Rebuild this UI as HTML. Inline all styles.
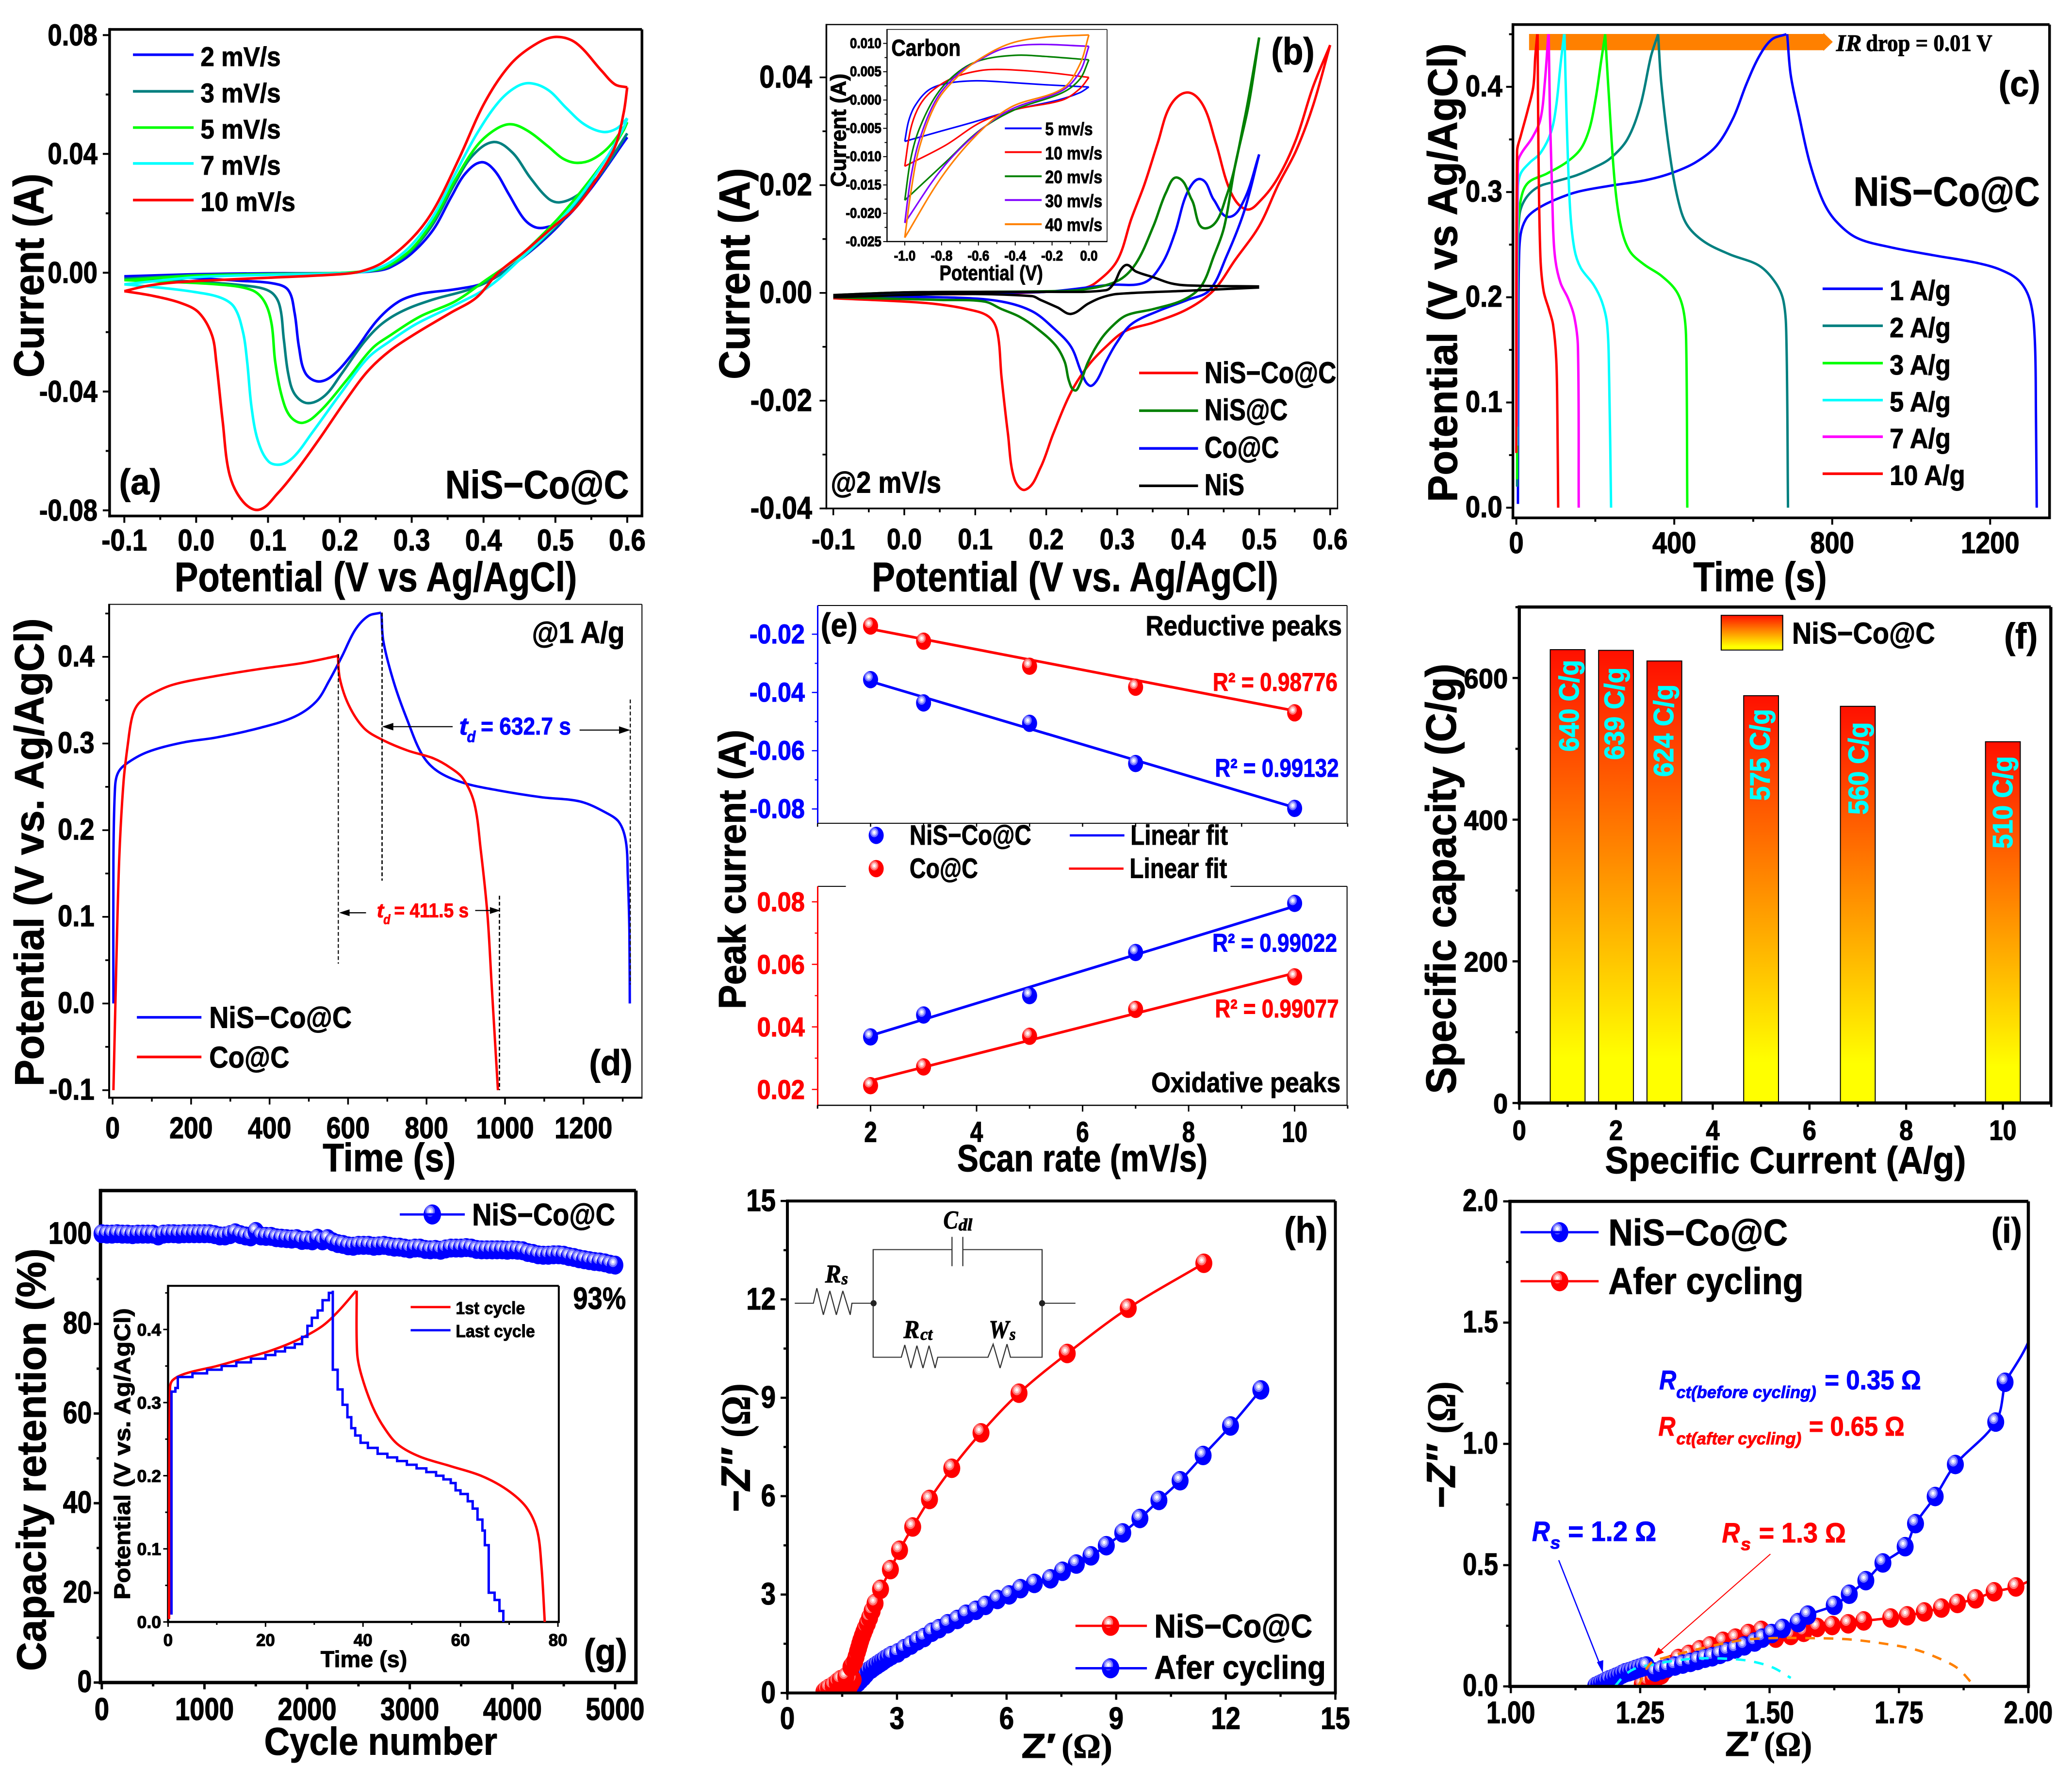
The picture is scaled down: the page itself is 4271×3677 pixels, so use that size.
<!DOCTYPE html>
<html lang="en">
<head>
<meta charset="utf-8">
<title>NiS-Co@C electrochemical characterisation</title>
<style>
html,body{margin:0;padding:0;background:#fff}
svg{display:block}
text{font-family:"Liberation Sans",sans-serif;font-weight:bold;fill:#000}
text.s{font-family:"Liberation Serif",serif}
</style>
</head>
<body>
<svg id="fig" xmlns="http://www.w3.org/2000/svg" width="4271" height="3677" viewBox="0 0 4271 3677">
<defs>
<radialGradient id="ballBlue" cx=".37" cy=".33" r=".28">
<stop offset="0" stop-color="#fff"/><stop offset=".28" stop-color="#fff"/><stop offset=".32" stop-color="#c0c0ff"/><stop offset=".62" stop-color="#c0c0ff"/><stop offset=".66" stop-color="#7070ff"/><stop offset=".96" stop-color="#7070ff"/><stop offset="1" stop-color="#0000ff"/>
</radialGradient>
<radialGradient id="ballRed" cx=".37" cy=".33" r=".28">
<stop offset="0" stop-color="#fff"/><stop offset=".28" stop-color="#fff"/><stop offset=".32" stop-color="#ffc0c0"/><stop offset=".62" stop-color="#ffc0c0"/><stop offset=".66" stop-color="#ff7070"/><stop offset=".96" stop-color="#ff7070"/><stop offset="1" stop-color="#ff0000"/>
</radialGradient>
<linearGradient id="barFill" x1="0" y1="1" x2="0" y2="0">
<stop offset="0" stop-color="#ffff00"/><stop offset=".1" stop-color="#ffff00"/><stop offset="1" stop-color="#ff1000"/>
</linearGradient>
</defs>

<!-- PANEL A -->
<g id="plot-a"></g>
<g transform="translate(0,0) scale(.8929,.778)">
<text transform="translate(100,1000) rotate(-90)" font-size="98" textLength="540" lengthAdjust="spacingAndGlyphs">Current (A)</text>
<text x="403" y="1566" font-size="110" textLength="929" lengthAdjust="spacingAndGlyphs">Potential (V vs Ag/AgCl)</text>
<line x1="307" x2="447" y1="145" y2="145" stroke="#0000ff" stroke-width="7"/>
<line x1="307" x2="447" y1="242" y2="242" stroke="#008080" stroke-width="7"/>
<line x1="307" x2="447" y1="338" y2="338" stroke="#00ff00" stroke-width="7"/>
<line x1="307" x2="447" y1="433" y2="433" stroke="#00ffff" stroke-width="7"/>
<line x1="307" x2="447" y1="530" y2="530" stroke="#ff0000" stroke-width="7"/>
<text x="463" y="175" font-size="72" textLength="185" lengthAdjust="spacingAndGlyphs">2 mV/s</text>
<text x="463" y="271" font-size="72" textLength="185" lengthAdjust="spacingAndGlyphs">3 mV/s</text>
<text x="463" y="367" font-size="72" textLength="185" lengthAdjust="spacingAndGlyphs">5 mV/s</text>
<text x="463" y="463" font-size="72" textLength="185" lengthAdjust="spacingAndGlyphs">7 mV/s</text>
<text x="463" y="559" font-size="72" textLength="219" lengthAdjust="spacingAndGlyphs">10 mV/s</text>
<text x="275" y="1310" font-size="95" textLength="97" lengthAdjust="spacingAndGlyphs">(a)</text>
<text x="1028" y="1320" font-size="105" textLength="424" lengthAdjust="spacingAndGlyphs">NiS−Co@C</text>
</g>

<!-- PANEL B -->
<g id="plot-b"></g>
<g transform="translate(1440,0) scale(.8929,.778)">
<text transform="translate(117,1005) rotate(-90)" font-size="100" textLength="560" lengthAdjust="spacingAndGlyphs">Current (A)</text>
<text x="400" y="1566" font-size="110" textLength="938" lengthAdjust="spacingAndGlyphs">Potential (V vs. Ag/AgCl)</text>
<line x1="1017" x2="1153" y1="988" y2="988" stroke="#ff0000" stroke-width="7"/>
<line x1="1017" x2="1153" y1="1088" y2="1088" stroke="#008000" stroke-width="7"/>
<line x1="1017" x2="1153" y1="1188" y2="1188" stroke="#0000ff" stroke-width="7"/>
<line x1="1017" x2="1153" y1="1287" y2="1287" stroke="#000" stroke-width="7"/>
<text x="1168" y="1015" font-size="80" textLength="304" lengthAdjust="spacingAndGlyphs">NiS−Co@C</text>
<text x="1168" y="1113" font-size="80" textLength="192" lengthAdjust="spacingAndGlyphs">NiS@C</text>
<text x="1168" y="1213" font-size="80" textLength="172" lengthAdjust="spacingAndGlyphs">Co@C</text>
<text x="1168" y="1312" font-size="80" textLength="92" lengthAdjust="spacingAndGlyphs">NiS</text>
<text x="1322" y="170" font-size="100" textLength="100" lengthAdjust="spacingAndGlyphs">(b)</text>
<text x="305" y="1305" font-size="80" textLength="255" lengthAdjust="spacingAndGlyphs">@2 mV/s</text>
<text transform="translate(340,495) rotate(-90)" font-size="50" textLength="300" lengthAdjust="spacingAndGlyphs">Current (A)</text>
<text x="556" y="742" font-size="56" textLength="239" lengthAdjust="spacingAndGlyphs">Potential (V)</text>
<text x="445" y="148" font-size="62" textLength="160" lengthAdjust="spacingAndGlyphs">Carbon</text>
<line x1="707" x2="792" y1="340" y2="340" stroke="#0000ff" stroke-width="5"/>
<line x1="707" x2="792" y1="403" y2="403" stroke="#ff0000" stroke-width="5"/>
<line x1="707" x2="792" y1="467" y2="467" stroke="#008000" stroke-width="5"/>
<line x1="707" x2="792" y1="530" y2="530" stroke="#8000ff" stroke-width="5"/>
<line x1="707" x2="792" y1="594" y2="594" stroke="#ff8000" stroke-width="5"/>
<text x="800" y="358" font-size="48" textLength="110" lengthAdjust="spacingAndGlyphs">5 mv/s</text>
<text x="800" y="422" font-size="48" textLength="132" lengthAdjust="spacingAndGlyphs">10 mv/s</text>
<text x="800" y="485" font-size="48" textLength="132" lengthAdjust="spacingAndGlyphs">20 mv/s</text>
<text x="800" y="549" font-size="48" textLength="132" lengthAdjust="spacingAndGlyphs">30 mv/s</text>
<text x="800" y="612" font-size="48" textLength="132" lengthAdjust="spacingAndGlyphs">40 mv/s</text>
</g>

<!-- PANEL C -->
<g transform="translate(2900,0) scale(.8744,.778)">
<polygon points="288,90 982,90 982,87 1004,111 982,135 982,133 288,133" fill="#ff8000"/>
</g>
<g id="plot-c"></g>
<g transform="translate(2900,0) scale(.8744,.778)">
<text transform="translate(118,1330) rotate(-90)" font-size="98" textLength="1215" lengthAdjust="spacingAndGlyphs">Potential (V vs Ag/AgCl)</text>
<text x="675" y="1566" font-size="110" textLength="315" lengthAdjust="spacingAndGlyphs">Time (s)</text>
<line x1="980" x2="1122" y1="765" y2="765" stroke="#0000ff" stroke-width="7"/>
<line x1="980" x2="1122" y1="863" y2="863" stroke="#008080" stroke-width="7"/>
<line x1="980" x2="1122" y1="962" y2="962" stroke="#00ff00" stroke-width="7"/>
<line x1="980" x2="1122" y1="1060" y2="1060" stroke="#00ffff" stroke-width="7"/>
<line x1="980" x2="1122" y1="1157" y2="1157" stroke="#ff00ff" stroke-width="7"/>
<line x1="980" x2="1122" y1="1255" y2="1255" stroke="#ff0000" stroke-width="7"/>
<text x="1138" y="795" font-size="74" textLength="144" lengthAdjust="spacingAndGlyphs">1 A/g</text>
<text x="1138" y="893" font-size="74" textLength="144" lengthAdjust="spacingAndGlyphs">2 A/g</text>
<text x="1138" y="992" font-size="74" textLength="144" lengthAdjust="spacingAndGlyphs">3 A/g</text>
<text x="1138" y="1090" font-size="74" textLength="144" lengthAdjust="spacingAndGlyphs">5 A/g</text>
<text x="1138" y="1187" font-size="74" textLength="144" lengthAdjust="spacingAndGlyphs">7 A/g</text>
<text x="1138" y="1285" font-size="74" textLength="178" lengthAdjust="spacingAndGlyphs">10 A/g</text>
<text x="1395" y="255" font-size="95" textLength="98" lengthAdjust="spacingAndGlyphs">(c)</text>
<text x="1053" y="545" font-size="108" textLength="439" lengthAdjust="spacingAndGlyphs">NiS−Co@C</text>
<text class="s" x="1012" y="135" font-size="62" font-style="italic" textLength="60" lengthAdjust="spacingAndGlyphs">IR</text>
<text class="s" x="1082" y="135" font-size="62" textLength="298" lengthAdjust="spacingAndGlyphs">drop = 0.01 V</text>
</g>

<!-- PANEL D -->
<g id="plot-d"></g>
<g transform="translate(0,1220) scale(.8929,.778)">
<text transform="translate(100,1310) rotate(-90)" font-size="95" textLength="1240" lengthAdjust="spacingAndGlyphs">Potential (V vs. Ag/AgCl)</text>
<text x="745" y="1535" font-size="105" textLength="307" lengthAdjust="spacingAndGlyphs">Time (s)</text>
<line x1="316" x2="465" y1="1127" y2="1127" stroke="#0000ff" stroke-width="7"/>
<line x1="316" x2="465" y1="1232" y2="1232" stroke="#ff0000" stroke-width="7"/>
<text x="483" y="1155" font-size="80" textLength="329" lengthAdjust="spacingAndGlyphs">NiS−Co@C</text>
<text x="483" y="1260" font-size="80" textLength="185" lengthAdjust="spacingAndGlyphs">Co@C</text>
<text x="1228" y="135" font-size="80" textLength="214" lengthAdjust="spacingAndGlyphs">@1 A/g</text>
<text x="1360" y="1280" font-size="95" textLength="100" lengthAdjust="spacingAndGlyphs">(d)</text>
<line x1="781" x2="781" y1="165" y2="985" stroke="#000" stroke-width="2.5" stroke-dasharray="10 6"/>
<line x1="882" x2="882" y1="55" y2="765" stroke="#000" stroke-width="3" stroke-dasharray="10 6"/>
<line x1="1153" x2="1153" y1="805" y2="1320" stroke="#000" stroke-width="3" stroke-dasharray="10 6"/>
<line x1="1455" x2="1455" y1="285" y2="1040" stroke="#000" stroke-width="2.5" stroke-dasharray="10 6"/>
<line x1="1045" x2="900" y1="357" y2="357" stroke="#000" stroke-width="3"/>
<polygon points="882,357 908,347 908,367"/>
<line x1="1338" x2="1435" y1="366" y2="366" stroke="#000" stroke-width="3"/>
<polygon points="1455,366 1429,356 1429,376"/>
<line x1="845" x2="800" y1="850" y2="850" stroke="#000" stroke-width="3"/>
<polygon points="783,850 807,841 807,859"/>
<line x1="1097" x2="1140" y1="844" y2="844" stroke="#000" stroke-width="3"/>
<polygon points="1155,844 1131,835 1131,853"/>
<text x="1060" y="378" font-size="64" font-style="italic" style="fill:#0000ff" textLength="20" lengthAdjust="spacingAndGlyphs">t</text>
<text x="1078" y="398" font-size="42" font-style="italic" style="fill:#0000ff" textLength="20" lengthAdjust="spacingAndGlyphs">d</text>
<text x="1110" y="378" font-size="64" style="fill:#0000ff" textLength="208" lengthAdjust="spacingAndGlyphs">= 632.7 s</text>
<text x="870" y="862" font-size="52" font-style="italic" style="fill:#ff0000" textLength="16" lengthAdjust="spacingAndGlyphs">t</text>
<text x="885" y="880" font-size="36" font-style="italic" style="fill:#ff0000" textLength="16" lengthAdjust="spacingAndGlyphs">d</text>
<text x="910" y="862" font-size="52" style="fill:#ff0000" textLength="172" lengthAdjust="spacingAndGlyphs">= 411.5 s</text>
</g>

<!-- PANEL E -->
<g id="plot-e"></g>
<g transform="translate(1440,1220) scale(.8929,.778)">
<text transform="translate(108,1105) rotate(-90)" font-size="88" textLength="740" lengthAdjust="spacingAndGlyphs">Peak current (A)</text>
<text x="597" y="1535" font-size="100" textLength="578" lengthAdjust="spacingAndGlyphs">Scan rate (mV/s)</text>
<text x="282" y="118" font-size="88" textLength="85" lengthAdjust="spacingAndGlyphs">(e)</text>
<text x="1032" y="115" font-size="74" textLength="453" lengthAdjust="spacingAndGlyphs">Reductive peaks</text>
<text x="1045" y="1325" font-size="74" textLength="437" lengthAdjust="spacingAndGlyphs">Oxidative peaks</text>
<text x="1187" y="262" font-size="68" style="fill:#ff0000" textLength="288" lengthAdjust="spacingAndGlyphs">R² = 0.98776</text>
<text x="1192" y="490" font-size="68" style="fill:#0000ff" textLength="286" lengthAdjust="spacingAndGlyphs">R² = 0.99132</text>
<text x="1186" y="953" font-size="68" style="fill:#0000ff" textLength="288" lengthAdjust="spacingAndGlyphs">R² = 0.99022</text>
<text x="1192" y="1127" font-size="68" style="fill:#ff0000" textLength="286" lengthAdjust="spacingAndGlyphs">R² = 0.99077</text>
<text x="487" y="670" font-size="74" textLength="281" lengthAdjust="spacingAndGlyphs">NiS−Co@C</text>
<text x="487" y="758" font-size="74" textLength="158" lengthAdjust="spacingAndGlyphs">Co@C</text>
<line x1="857" x2="983" y1="645" y2="645" stroke="#0000ff" stroke-width="6"/>
<line x1="855" x2="981" y1="733" y2="733" stroke="#ff0000" stroke-width="6"/>
<text x="997" y="670" font-size="74" textLength="225" lengthAdjust="spacingAndGlyphs">Linear fit</text>
<text x="995" y="758" font-size="74" textLength="225" lengthAdjust="spacingAndGlyphs">Linear fit</text>
</g>

<!-- PANEL F -->
<g id="plot-f"></g>
<g transform="translate(2900,1220) scale(.8744,.778)">
<text transform="translate(115,1330) rotate(-90)" font-size="100" textLength="1140" lengthAdjust="spacingAndGlyphs">Specific capacity (C/g)</text>
<text x="467" y="1540" font-size="100" textLength="851" lengthAdjust="spacingAndGlyphs">Specific Current (A/g)</text>
<rect x="741" y="62" width="145" height="92" fill="url(#barFill)" stroke="#000" stroke-width="2.5"/>
<text x="908" y="137" font-size="80" textLength="337" lengthAdjust="spacingAndGlyphs">NiS−Co@C</text>
<text x="1408" y="150" font-size="95" textLength="79" lengthAdjust="spacingAndGlyphs">(f)</text>
<text transform="translate(405,423) rotate(-90)" font-size="66" style="fill:#00ffff" textLength="243" lengthAdjust="spacingAndGlyphs">640 C/g</text>
<text transform="translate(512,445) rotate(-90)" font-size="66" style="fill:#00ffff" textLength="245" lengthAdjust="spacingAndGlyphs">639 C/g</text>
<text transform="translate(628,490) rotate(-90)" font-size="66" style="fill:#00ffff" textLength="245" lengthAdjust="spacingAndGlyphs">624 C/g</text>
<text transform="translate(855,553) rotate(-90)" font-size="66" style="fill:#00ffff" textLength="243" lengthAdjust="spacingAndGlyphs">575 C/g</text>
<text transform="translate(1087,590) rotate(-90)" font-size="66" style="fill:#00ffff" textLength="245" lengthAdjust="spacingAndGlyphs">560 C/g</text>
<text transform="translate(1427,680) rotate(-90)" font-size="66" style="fill:#00ffff" textLength="245" lengthAdjust="spacingAndGlyphs">510 C/g</text>
</g>

<!-- PANEL G -->
<g id="plot-g"></g>
<g transform="translate(0,2430) scale(.8929,.7953)">
<text transform="translate(105,1275) rotate(-90)" font-size="95" textLength="1095" lengthAdjust="spacingAndGlyphs">Capacity retention (%)</text>
<text x="610" y="1492" font-size="100" textLength="538" lengthAdjust="spacingAndGlyphs">Cycle number</text>
<line x1="923" x2="1073" y1="92" y2="92" stroke="#0000ff" stroke-width="6"/>
<text x="1090" y="120" font-size="80" textLength="330" lengthAdjust="spacingAndGlyphs">NiS−Co@C</text>
<text x="1323" y="337" font-size="80" textLength="122" lengthAdjust="spacingAndGlyphs">93%</text>
<text x="1348" y="1258" font-size="95" textLength="100" lengthAdjust="spacingAndGlyphs">(g)</text>
<text x="740" y="1265" font-size="60" textLength="200" lengthAdjust="spacingAndGlyphs">Time (s)</text>
<text transform="translate(300,1090) rotate(-90)" font-size="52" textLength="755" lengthAdjust="spacingAndGlyphs">Potential (V vs. Ag/AgCl)</text>
<line x1="948" x2="1040" y1="332" y2="332" stroke="#ff0000" stroke-width="6"/>
<line x1="948" x2="1040" y1="392" y2="392" stroke="#0000ff" stroke-width="6"/>
<text x="1052" y="350" font-size="46" textLength="160" lengthAdjust="spacingAndGlyphs">1st cycle</text>
<text x="1052" y="410" font-size="46" textLength="183" lengthAdjust="spacingAndGlyphs">Last cycle</text>
</g>

<!-- PANEL H -->
<g id="plot-h"></g>
<g transform="translate(1440,2430) scale(.8929,.7953)">
<text x="745" y="1500" font-size="90" textLength="80" lengthAdjust="spacingAndGlyphs">Z′</text>
<text class="s" x="838" y="1500" font-size="90" textLength="117" lengthAdjust="spacingAndGlyphs">(Ω)</text>
<text transform="translate(118,865) rotate(-90)" font-size="95" font-style="italic" textLength="165" lengthAdjust="spacingAndGlyphs">−Z″</text>
<text class="s" transform="translate(118,670) rotate(-90)" font-size="95" textLength="140" lengthAdjust="spacingAndGlyphs">(Ω)</text>
<line x1="870" x2="1035" y1="1158" y2="1158" stroke="#ff0000" stroke-width="6"/>
<line x1="870" x2="1035" y1="1268" y2="1268" stroke="#0000ff" stroke-width="6"/>
<text x="1052" y="1188" font-size="85" textLength="365" lengthAdjust="spacingAndGlyphs">NiS−Co@C</text>
<text x="1052" y="1295" font-size="85" textLength="396" lengthAdjust="spacingAndGlyphs">Afer cycling</text>
<text x="1352" y="165" font-size="95" textLength="100" lengthAdjust="spacingAndGlyphs">(h)</text>
<g fill="none" stroke="#333" stroke-width="2.6">
<polyline points="222,322 265,322 273,283 288,352 303,290 318,352 333,290 350,352 354,322 403,322"/>
<polyline points="585,183 403,183 403,462 468,462 476,430 490,490 504,432 518,490 532,432 546,490 552,462 668,462 680,428 696,490 712,428 720,462 793,462 793,183 610,183"/>
<line x1="585" x2="585" y1="150" y2="226"/>
<line x1="610" x2="610" y1="150" y2="226"/>
<line x1="793" x2="870" y1="322" y2="322"/>
</g>
<ellipse cx="404" cy="322" rx="7" ry="8" fill="#222"/>
<ellipse cx="793" cy="322" rx="7" ry="8" fill="#222"/>
<text class="s" x="565" y="128" font-size="66" font-style="italic" textLength="34" lengthAdjust="spacingAndGlyphs">C</text>
<text class="s" x="600" y="133" font-size="44" font-style="italic" textLength="32" lengthAdjust="spacingAndGlyphs">dl</text>
<text class="s" x="292" y="268" font-size="66" font-style="italic" textLength="37" lengthAdjust="spacingAndGlyphs">R</text>
<text class="s" x="330" y="273" font-size="44" font-style="italic" textLength="15" lengthAdjust="spacingAndGlyphs">s</text>
<text class="s" x="473" y="412" font-size="66" font-style="italic" textLength="37" lengthAdjust="spacingAndGlyphs">R</text>
<text class="s" x="512" y="417" font-size="44" font-style="italic" textLength="28" lengthAdjust="spacingAndGlyphs">ct</text>
<text class="s" x="670" y="412" font-size="66" font-style="italic" textLength="47" lengthAdjust="spacingAndGlyphs">W</text>
<text class="s" x="718" y="417" font-size="44" font-style="italic" textLength="14" lengthAdjust="spacingAndGlyphs">s</text>
</g>

<!-- PANEL I -->
<g id="plot-i"></g>
<g transform="translate(2900,2430) scale(.8744,.7953)">
<text x="750" y="1495" font-size="90" textLength="80" lengthAdjust="spacingAndGlyphs">Z′</text>
<text class="s" x="842" y="1495" font-size="90" textLength="113" lengthAdjust="spacingAndGlyphs">(Ω)</text>
<text transform="translate(113,855) rotate(-90)" font-size="95" font-style="italic" textLength="165" lengthAdjust="spacingAndGlyphs">−Z″</text>
<text class="s" transform="translate(113,660) rotate(-90)" font-size="95" textLength="135" lengthAdjust="spacingAndGlyphs">(Ω)</text>
<line x1="268" x2="452" y1="138" y2="138" stroke="#0000ff" stroke-width="6"/>
<line x1="268" x2="452" y1="265" y2="265" stroke="#ff0000" stroke-width="6"/>
<text x="475" y="172" font-size="97" textLength="423" lengthAdjust="spacingAndGlyphs">NiS−Co@C</text>
<text x="475" y="298" font-size="97" textLength="460" lengthAdjust="spacingAndGlyphs">Afer cycling</text>
<text x="1378" y="165" font-size="92" textLength="72" lengthAdjust="spacingAndGlyphs">(i)</text>
<text x="595" y="545" font-size="70" font-style="italic" style="fill:#0000ff" textLength="40" lengthAdjust="spacingAndGlyphs">R</text>
<text x="635" y="568" font-size="44" font-style="italic" style="fill:#0000ff" textLength="330" lengthAdjust="spacingAndGlyphs">ct(before cycling)</text>
<text x="985" y="545" font-size="70" style="fill:#0000ff" textLength="227" lengthAdjust="spacingAndGlyphs">= 0.35 Ω</text>
<text x="593" y="665" font-size="70" font-style="italic" style="fill:#ff0000" textLength="40" lengthAdjust="spacingAndGlyphs">R</text>
<text x="635" y="688" font-size="44" font-style="italic" style="fill:#ff0000" textLength="295" lengthAdjust="spacingAndGlyphs">ct(after cycling)</text>
<text x="948" y="665" font-size="70" style="fill:#ff0000" textLength="225" lengthAdjust="spacingAndGlyphs">= 0.65 Ω</text>
<text x="295" y="938" font-size="72" font-style="italic" style="fill:#0000ff" textLength="42" lengthAdjust="spacingAndGlyphs">R</text>
<text x="338" y="958" font-size="46" font-style="italic" style="fill:#0000ff" textLength="24" lengthAdjust="spacingAndGlyphs">s</text>
<text x="380" y="938" font-size="72" style="fill:#0000ff" textLength="208" lengthAdjust="spacingAndGlyphs">= 1.2 Ω</text>
<text x="743" y="942" font-size="72" font-style="italic" style="fill:#ff0000" textLength="42" lengthAdjust="spacingAndGlyphs">R</text>
<text x="787" y="962" font-size="46" font-style="italic" style="fill:#ff0000" textLength="24" lengthAdjust="spacingAndGlyphs">s</text>
<text x="830" y="942" font-size="72" style="fill:#ff0000" textLength="205" lengthAdjust="spacingAndGlyphs">= 1.3 Ω</text>
<line x1="358" y1="988" x2="455" y2="1258" stroke="#0000ff" stroke-width="3"/>
<polygon points="462,1280 448,1252 463,1247" fill="#0000ff"/>
<line x1="857" y1="972" x2="595" y2="1225" stroke="#ff0000" stroke-width="2.5"/>
<polygon points="582,1238 593,1214 606,1227" fill="#ff0000"/>
</g>
</svg>

<script>
// ---------- Panel (a) CV of NiS-Co@C: [potential V, current A] ----------
const aXTicks=[-0.1,0,0.1,0.2,0.3,0.4,0.5,0.6];
const aXLabels=['-0.1','0.0','0.1','0.2','0.3','0.4','0.5','0.6'];
const aYTicks=[-0.08,-0.04,0,0.04,0.08];
const aYLabels=['-0.08','-0.04','0.00','0.04','0.08'];
const a2Up=[[-.1,-.0012],[0,-.0005],[.1,-.0002],[.2,-.0001],[.25,.0006],[.27,.0018],[.3,.0065],[.33,.0145],[.355,.0255],[.375,.0335],[.397,.0372],[.415,.0345],[.435,.0265],[.455,.0185],[.47,.0155],[.485,.0152],[.51,.0175],[.55,.0285],[.6,.0456]];
const a2Down=[[.6,.0456],[.571,.036],[.535,.0246],[.499,.0145],[.45,.0043],[.402,-.0033],[.36,-.0056],[.312,-.0071],[.282,-.0097],[.252,-.016],[.221,-.0262],[.191,-.0344],[.17,-.0366],[.152,-.0338],[.143,-.0249],[.137,-.0135],[.128,-.0058],[.107,-.0036],[.059,-.0027],[-.002,-.0018],[-.1,-.0012]];
const a3Up=[[-.1,-.002],[0,-.0008],[.1,-.0004],[.2,-.0001],[.25,.0008],[.27,.0023],[.3,.0075],[.33,.0165],[.36,.03],[.385,.0395],[.414,.044],[.44,.0405],[.465,.032],[.49,.025],[.506,.0237],[.53,.026],[.56,.0325],[.6,.0469]];
const a3Down=[[.6,.0469],[.571,.036],[.535,.0246],[.499,.015],[.45,.0043],[.414,-.002],[.378,-.0058],[.33,-.009],[.288,-.0128],[.258,-.0173],[.233,-.0236],[.203,-.0338],[.179,-.0414],[.155,-.0439],[.137,-.0408],[.128,-.0338],[.122,-.0224],[.116,-.0109],[.104,-.0065],[.077,-.0046],[-.002,-.003],[-.1,-.002]];
const a5Up=[[-.1,-.0025],[0,-.001],[.1,-.0005],[.2,-.0001],[.25,.001],[.27,.0027],[.3,.008],[.33,.0175],[.36,.031],[.39,.0425],[.415,.048],[.437,.05],[.46,.048],[.49,.0425],[.51,.0385],[.529,.037],[.55,.038],[.575,.0425],[.6,.0507]];
const a5Down=[[.6,.0507],[.595,.048],[.571,.0386],[.535,.0272],[.499,.017],[.45,.0056],[.402,-.0027],[.36,-.0097],[.312,-.0147],[.27,-.0211],[.245,-.0255],[.209,-.0363],[.173,-.0465],[.149,-.0505],[.131,-.0484],[.119,-.0414],[.11,-.03],[.105,-.0173],[.095,-.0097],[.077,-.0058],[.028,-.0039],[-.1,-.0025]];
const a7Up=[[-.1,-.0039],[0,-.0015],[.1,-.0007],[.2,-.0002],[.24,.0006],[.27,.0035],[.3,.0094],[.33,.019],[.36,.033],[.39,.0465],[.42,.0572],[.445,.0625],[.465,.0638],[.49,.0615],[.515,.0555],[.54,.05],[.566,.0474],[.585,.0485],[.6,.052]];
const a7Down=[[.6,.052],[.595,.0488],[.571,.0386],[.535,.0259],[.499,.0157],[.45,.0043],[.408,-.0046],[.36,-.0109],[.306,-.0173],[.27,-.023],[.239,-.0287],[.203,-.04],[.161,-.054],[.137,-.0617],[.119,-.0645],[.101,-.0636],[.086,-.0566],[.077,-.0452],[.071,-.03],[.065,-.0198],[.053,-.0116],[.034,-.0084],[-.002,-.0065],[-.044,-.0052],[-.1,-.0039]];
const a10Up=[[-.1,-.0062],[-.07,-.0045],[-.04,-.0035],[0,-.0028],[.1,-.0017],[.2,-.0005],[.23,.0005],[.26,.0035],[.3,.0115],[.33,.021],[.366,.0385],[.402,.0575],[.438,.0703],[.475,.0773],[.502,.0794],[.529,.0773],[.565,.0678],[.583,.0634],[.6,.0624]];
const a10Down=[[.6,.0624],[.595,.0538],[.583,.0424],[.559,.0323],[.529,.0221],[.498,.0157],[.456,.0069],[.42,-.0001],[.39,-.0084],[.354,-.0135],[.306,-.0204],[.27,-.0262],[.239,-.0331],[.209,-.0427],[.173,-.0554],[.143,-.0655],[.113,-.0744],[.0875,-.0798],[.065,-.077],[.0465,-.068],[.037,-.0503],[.028,-.03],[.022,-.021],[.004,-.0135],[-.02,-.0103],[-.062,-.0077],[-.1,-.0062]];

// ---------- Panel (b) CV comparison ----------
const bXTicks=[-0.1,0,0.1,0.2,0.3,0.4,0.5,0.6];
const bXLabels=['-0.1','0.0','0.1','0.2','0.3','0.4','0.5','0.6'];
const bYTicks=[-0.04,-0.02,0,0.02,0.04];
const bYLabels=['-0.04','-0.02','0.00','0.02','0.04'];
const bRedUp=[[-.1,-.001],[0,-.0003],[.1,-.0002],[.2,.0002],[.25,.0008],[.27,.0019],[.3,.006],[.32,.0138],[.338,.02],[.357,.0278],[.375,.0348],[.399,.0372],[.421,.0348],[.439,.0278],[.46,.0187],[.482,.0155],[.503,.0173],[.527,.0215],[.552,.0285],[.576,.0383],[.6,.046]];
const bRedDown=[[.6,.046],[.576,.0348],[.552,.0264],[.527,.0201],[.5,.0124],[.466,.0061],[.436,.0005],[.399,-.003],[.351,-.0055],[.311,-.0071],[.284,-.01],[.259,-.0135],[.235,-.0184],[.21,-.0261],[.192,-.0324],[.171,-.0365],[.155,-.0345],[.146,-.0261],[.137,-.0156],[.131,-.0072],[.119,-.0044],[.088,-.003],[.04,-.002],[-.015,-.0015],[-.1,-.001]];
const bGreenUp=[[-.1,-.0004],[0,.0001],[.1,.0002],[.2,.0003],[.25,.0006],[.3,.0022],[.326,.0054],[.351,.0124],[.369,.0187],[.385,.0214],[.405,.0173],[.425,.012],[.454,.018],[.479,.032],[.5,.0474]];
const bGreenDown=[[.5,.0474],[.485,.0348],[.466,.0236],[.451,.0124],[.436,.0068],[.418,.0012],[.393,-.0013],[.351,-.003],[.314,-.0041],[.296,-.0058],[.277,-.0086],[.259,-.0128],[.247,-.017],[.24,-.0181],[.232,-.0163],[.226,-.0128],[.213,-.0097],[.186,-.0065],[.162,-.0044],[.137,-.003],[.113,-.0016],[.052,-.0013],[-.1,-.0008]];
const bBlueUp=[[-.1,-.0006],[0,0],[.1,.0001],[.2,.0002],[.29,.0015],[.338,.0019],[.363,.0054],[.381,.011],[.399,.0187],[.418,.0211],[.436,.0173],[.457,.0141],[.479,.0173],[.5,.0257]];
const bBlueDown=[[.5,.0257],[.479,.0152],[.454,.0068],[.43,.0005],[.399,-.0013],[.357,-.0034],[.32,-.0058],[.299,-.0093],[.284,-.0128],[.271,-.0163],[.261,-.0172],[.25,-.0149],[.235,-.01],[.21,-.0065],[.18,-.0034],[.137,-.0016],[.076,-.0009],[-.1,-.0006]];
const bBlackUp=[[-.1,-.0004],[0,.0001],[.1,.0002],[.2,.0002],[.284,.0005],[.296,.0019],[.305,.0043],[.314,.0052],[.326,.004],[.351,.0029],[.375,.0018],[.399,.0014],[.5,.0012]];
const bBlackDown=[[.5,.001],[.399,.0004],[.3,-.0002],[.277,-.0009],[.259,-.002],[.235,-.0039],[.216,-.0027],[.192,-.0013],[.18,-.0006],[.076,-.0002],[-.1,-.0008]];

// Inset (b): carbon CV
const biXTicks=[-1,-0.8,-0.6,-0.4,-0.2,0];
const biXLabels=['-1.0','-0.8','-0.6','-0.4','-0.2','0.0'];
const biYTicks=[-0.025,-0.02,-0.015,-0.01,-0.005,0,0.005,0.01];
const biYLabels=['-0.025','-0.020','-0.015','-0.010','-0.005','0.000','0.005','0.010'];
const bi5Up=[[-1,-.0073],[-.979,-.0037],[-.944,-.001],[-.873,.0017],[-.779,.0029],[-.614,.0034],[-.426,.0031],[-.238,.0027],[0,.0023]];
const bi5Down=[[0,.0023],[-.049,.0013],[-.167,0],[-.402,-.0017],[-.638,-.004],[-.826,-.0057],[-1,-.0073]];
const bi10Up=[[-1,-.0117],[-.967,-.005],[-.92,-.001],[-.849,.0017],[-.732,.004],[-.591,.0052],[-.473,.0054],[-.238,.0049],[0,.004]];
const bi10Down=[[0,.004],[-.049,.002],[-.144,0],[-.402,-.0017],[-.591,-.004],[-.779,-.008],[-1,-.0117]];
const bi20Up=[[-1,-.0177],[-.967,-.0103],[-.92,-.005],[-.826,.001],[-.708,.005],[-.591,.007],[-.402,.0079],[-.238,.0077],[0,.0071]];
const bi20Down=[[0,.0071],[-.049,.0037],[-.144,.0013],[-.402,-.0017],[-.591,-.0053],[-.779,-.011],[-1,-.0177]];
const bi30Up=[[-1,-.0217],[-.967,-.0137],[-.92,-.007],[-.826,.0003],[-.708,.0047],[-.614,.0067],[-.473,.009],[-.308,.0098],[0,.0095]];
const bi30Down=[[0,.0095],[-.049,.005],[-.144,.0017],[-.426,-.0017],[-.614,-.006],[-.802,-.0123],[-1,-.0217]];
const bi40Up=[[-1,-.0243],[-.967,-.0163],[-.92,-.0083],[-.826,-.0003],[-.708,.0043],[-.591,.0073],[-.426,.01],[-.238,.0111],[0,.0115]];
const bi40Down=[[0,.0115],[-.049,.0063],[-.144,.002],[-.426,-.0013],[-.614,-.0063],[-.802,-.0137],[-1,-.0243]];

// ---------- Panel (c) GCD rates: [time s, potential V] ----------
const cXTicks=[0,400,800,1200];
const cXLabels=['0','400','800','1200'];
const cYTicks=[0,0.1,0.2,0.3,0.4];
const cYLabels=['0.0','0.1','0.2','0.3','0.4'];
const c1Charge=[[4,.0036],[5,.16],[6.5,.231],[11,.26],[24,.274],[45,.282],[88,.291],[153,.3],[238,.306],[324,.311],[389,.3175],[453,.328],[507,.344],[550,.371],[582,.402],[615,.429],[647,.445],[684,.45]];
const c1Discharge=[[686,.45],[695,.411],[717,.371],[743,.328],[776,.292],[808,.273],[862,.2565],[948,.2475],[1055,.24],[1162,.233],[1227,.226],[1275,.215],[1302,.1955],[1313,.16],[1316,.088],[1318,0]];
const c2Charge=[[2,.02],[4,.23],[8,.278],[24,.294],[56,.305],[99,.31],[153,.316],[196,.323],[238,.332],[281,.35],[314,.382],[341,.429],[359,.45]];
const c2Discharge=[[359,.45],[367,.404],[389,.335],[410,.292],[432,.269],[475,.253],[539,.241],[615,.23],[657,.2135],[677,.1955],[684,.16],[688,0]];
const c3Charge=[[2,.027],[4,.26],[11,.292],[29,.3085],[77,.3175],[126,.328],[163,.341],[185,.36],[201,.389],[215,.425],[225,.45]];
const c3Discharge=[[225,.45],[233,.4],[249,.31],[265,.267],[287,.244],[324,.231],[367,.2205],[405,.206],[423,.188],[430,.16],[433,0]];
const c5Charge=[[2,.059],[4,.303],[11,.3175],[34,.328],[61,.337],[88,.357],[101,.382],[112,.4215],[121,.45]];
const c5Discharge=[[122,.45],[127,.375],[136,.285],[147,.246],[163,.228],[196,.2117],[217,.1955],[230,.174],[235,.124],[240,0]];
const c7Charge=[[1,.077],[4,.328],[13,.337],[40,.3515],[61,.369],[72,.4035],[81,.45]];
const c7Discharge=[[82,.45],[85,.375],[93,.267],[99,.235],[112,.2135],[131,.199],[147,.181],[156,.1525],[158,0]];
const c10Charge=[[0,.052],[2,.339],[11,.353],[29,.378],[43,.4],[48,.429],[53,.45]];
const c10Discharge=[[54,.45],[56,.339],[61,.2385],[69,.206],[83,.188],[93,.174],[101,.1417],[104,.088],[106,0]];

// ---------- Panel (d) GCD comparison ----------
const dXTicks=[0,200,400,600,800,1000,1200];
const dXLabels=['0','200','400','600','800','1000','1200'];
const dYTicks=[-0.1,0,0.1,0.2,0.3,0.4];
const dYLabels=['-0.1','0.0','0.1','0.2','0.3','0.4'];
const dBlueCharge=[[2,0],[2,.165],[6,.248],[13,.2655],[33,.276],[88,.29],[177,.301],[265,.307],[375,.318],[464,.331],[519,.3485],[552,.3725],[585,.401],[618,.431],[651,.447],[684,.451]];
const dBlueDischarge=[[685,.451],[690,.418],[717,.37],[751,.327],[789,.287],[828,.268],[894,.2546],[982,.246],[1093,.238],[1192,.233],[1258,.22],[1291,.209],[1308,.187],[1313,.1476],[1317,.082],[1318,0]];
const dRedCharge=[[2,-.1],[9,.038],[17,.169],[28,.257],[39,.3],[50,.331],[66,.346],[99,.357],[155,.368],[265,.378],[375,.386],[486,.393],[573,.401]];
const dRedDischarge=[[574,.403],[579,.375],[602,.344],[640,.318],[684,.305],[751,.292],[817,.283],[861,.272],[894,.259],[922,.2306],[938,.178],[955,.104],[966,.021],[982,-.1]];

// ---------- Panel (e) peak current vs scan rate ----------
const eRates=[2,3,5,7,10];
const eFitRates=[2,10];
const eXTicks=[2,4,6,8,10];
const eXLabels=['2','4','6','8','10'];
const eTopTicks=[-0.08,-0.06,-0.04,-0.02];
const eTopLabels=['-0.08','-0.06','-0.04','-0.02'];
const eBotTicks=[0.02,0.04,0.06,0.08];
const eBotLabels=['0.02','0.04','0.06','0.08'];
const eRedNis=[-.0356,-.0436,-.0506,-.0644,-.0798];
const eRedCo=[-.0172,-.0224,-.031,-.0382,-.047];
const eRedNisFit=[-.0362,-.0795];
const eRedCoFit=[-.0182,-.0463];
const eOxNis=[.0368,.0438,.05,.0638,.0795];
const eOxCo=[.0212,.0272,.037,.0456,.056];
const eOxNisFit=[.0372,.0786];
const eOxCoFit=[.0228,.0572];

// ---------- Panel (f) specific capacity bars ----------
const fCurrents=[1,2,3,5,7,10];
const fCapacity=[640,639,624,575,560,510];
const fXTicks=[0,2,4,6,8,10];
const fXLabels=['0','2','4','6','8','10'];
const fYTicks=[0,200,400,600];
const fYLabels=['0','200','400','600'];

// ---------- Panel (g) cycling ----------
const gXTicks=[0,1000,2000,3000,4000,5000];
const gXLabels=['0','1000','2000','3000','4000','5000'];
const gYTicks=[0,20,40,60,80,100];
const gYLabels=['0','20','40','60','80','100'];
const gCycles=[0,50,100,150,200,250,300,350,400,450,500,550,600,650,700,750,800,850,900,950,1000,1050,1100,1150,1200,1250,1300,1350,1400,1450,1500,1550,1600,1650,1700,1750,1800,1850,1900,1950,2000,2050,2100,2150,2200,2250,2300,2350,2400,2450,2500,2550,2600,2650,2700,2750,2800,2850,2900,2950,3000,3050,3100,3150,3200,3250,3300,3350,3400,3450,3500,3550,3600,3650,3700,3750,3800,3850,3900,3950,4000,4050,4100,4150,4200,4250,4300,4350,4400,4450,4500,4550,4600,4650,4700,4750,4800,4850,4900,4950,5000];
const gRetention=[100.1,100,100,100.1,100,100,99.9,100,100,100,
100,99.6,100,100.1,100.1,100,100.1,100.1,100.1,100.1,
100.1,100.1,99.9,99.6,99.6,99.9,100.3,99.9,99.6,99.4,
100.6,99.6,99.5,99.5,99.2,99.1,99,98.9,99,98.6,
98.7,98.5,99.1,98.5,99,98.3,97.9,97.7,97.4,97.3,
97.5,97.5,97.5,97.3,97.4,97.5,97.3,97.1,97.1,96.9,
96.7,96.9,96.9,96.6,96.5,96.6,96.4,96.7,96.9,96.9,
96.9,97,96.9,96.6,96.5,96.5,96.5,96.5,96.5,96.4,
96.5,96.4,96.3,95.9,95.7,95.4,95.3,95.3,95.4,95.4,
95.3,95,94.8,94.5,94.3,94.1,93.9,93.8,93.6,93.3,
93.1];
const giXTicks=[0,20,40,60,80];
const giXLabels=['0','20','40','60','80'];
const giYTicks=[0,0.1,0.2,0.3,0.4];
const giYLabels=['0.0','0.1','0.2','0.3','0.4'];
const giFirstCharge=[[.2,.004],[.4,.32],[1,.331],[3.7,.34],[10,.35],[15.3,.36],[20.6,.37],[26,.384],[31.3,.403],[34.8,.424],[38.6,.453]];
const giFirstDischarge=[[38.7,.453],[38.8,.368],[39.7,.337],[42,.294],[44.6,.263],[47.3,.242],[51.7,.226],[58,.213],[64.2,.2],[69.5,.181],[73.5,.157],[75.7,.126],[76.6,.078],[77.3,0]];
const giLastSteps=[[.7,.01],[.7,.315],[1.5,.32],[2,.335],[5,.34],[8,.345],[11,.35],[14,.355],[17,.36],[20,.365],[22,.37],[24,.375],[26,.38],[27.5,.39],[28.6,.405],[29.5,.416],[30.7,.426],[31.7,.44],[33,.45],[33.8,.453],[33.8,.345],[34.8,.318],[35.8,.297],[36.8,.28],[37.6,.265],[38.4,.255],[39.5,.245],[41,.238],[43,.23],[45,.225],[47,.22],[49,.215],[51,.21],[53,.205],[55,.2],[56.5,.195],[58,.19],[59,.18],[60,.175],[61.5,.165],[62.5,.155],[63.5,.14],[64.5,.125],[65,.105],[65.8,.09],[65.8,.04],[67,.03],[68,.015],[68.8,0]];

// ---------- Panel (h) Nyquist ----------
const hTicks=[0,3,6,9,12,15];
const hLabels=['0','3','6','9','12','15'];
const hFresh=[[1,.03],[1.05,.08],[1.13,.14],[1.25,.22],[1.36,.32],[1.45,.4],[1.6,.49],[1.74,.79],[1.78,.85],[1.84,.96],[1.88,1.1],[1.92,1.26],[1.95,1.37],[1.98,1.49],[2.01,1.6],[2.05,1.73],[2.09,1.85],[2.13,1.96],[2.19,2.12],[2.25,2.29],[2.32,2.5],[2.4,2.73],[2.55,3.16],[2.82,3.76],[3.07,4.35],[3.43,5.06],[3.89,5.9],[4.5,6.85],[5.3,7.93],[6.34,9.14],[7.66,10.35],[9.33,11.73],[11.4,13.1]];
const hFreshLow=[[1,.02],[1.1,.03],[1.2,.05],[1.3,.05],[1.4,.04],[1.5,.04],[1.6,.05],[1.65,.12],[1.7,.2],[1.75,.3],[1.8,.4],[1.3,.15],[1.5,.25]];
const hCycled=[[1.2,.15],[1.4,.1],[1.66,.02],[1.78,.14],[1.93,.32],[2,.4],[2.08,.49],[2.15,.58],[2.22,.67],[2.3,.73],[2.37,.79],[2.45,.85],[2.53,.91],[2.6,.96],[2.67,1.02],[2.76,1.08],[2.85,1.14],[3.02,1.22],[3.2,1.35],[3.38,1.46],[3.56,1.59],[3.74,1.69],[3.95,1.85],[4.15,1.96],[4.39,2.11],[4.65,2.24],[4.89,2.4],[5.16,2.52],[5.42,2.67],[5.75,2.85],[6.07,2.99],[6.38,3.18],[6.76,3.34],[7.2,3.48],[7.53,3.71],[7.91,3.93],[8.31,4.18],[8.73,4.49],[9.18,4.88],[9.65,5.32],[10.17,5.87],[10.75,6.47],[11.38,7.24],[12.13,8.14],[12.96,9.24]];

// ---------- Panel (i) Nyquist zoom ----------
const iXTicks=[1,1.25,1.5,1.75,2];
const iXLabels=['1.00','1.25','1.50','1.75','2.00'];
const iYTicks=[0,0.5,1,1.5,2];
const iYLabels=['0.0','0.5','1.0','1.5','2.0'];
const iBlueLow=[[1.164,0],[1.17,.006],[1.175,.011],[1.18,.016],[1.184,.021],[1.19,.027],[1.197,.032],[1.203,.038],[1.209,.043],[1.215,.05],[1.221,.056],[1.228,.06],[1.234,.064],[1.241,.07],[1.248,.075],[1.255,.08],[1.262,.084]];
const iBlue=[[1.279,.059],[1.291,.068],[1.303,.076],[1.317,.084],[1.332,.092],[1.347,.099],[1.361,.107],[1.375,.116],[1.389,.122],[1.404,.132],[1.418,.143],[1.434,.154],[1.451,.167],[1.471,.183],[1.486,.199],[1.504,.218],[1.525,.239],[1.555,.263],[1.574,.294],[1.625,.334],[1.654,.38],[1.686,.436],[1.719,.509],[1.762,.576],[1.782,.671],[1.82,.783],[1.859,.915],[1.937,1.09],[1.955,1.254]];
const iBlueTail=[[1.955,1.254],[2,1.42],[2.002,1.49]];
const iRed=[[1.254,.008],[1.265,.02],[1.275,.032],[1.283,.04],[1.291,.048],[1.3,.07],[1.31,.09],[1.324,.115],[1.344,.132],[1.365,.151],[1.385,.167],[1.41,.186],[1.434,.199],[1.459,.218],[1.484,.231],[1.512,.199],[1.541,.21],[1.566,.223],[1.592,.243],[1.621,.251],[1.652,.258],[1.682,.27],[1.734,.282],[1.766,.291],[1.799,.307],[1.832,.323],[1.863,.342],[1.898,.361],[1.934,.39],[1.976,.41]];
const iRedTail=[[1.976,.41],[2,.433]];
const iFitOrange=[[1.246,0],[1.27,.095],[1.299,.119],[1.373,.159],[1.447,.191],[1.504,.199],[1.578,.199],[1.652,.194],[1.725,.175],[1.783,.151],[1.832,.111],[1.865,.072],[1.896,0]];
const iFitCyan=[[1.201,0],[1.221,.048],[1.242,.075],[1.27,.088],[1.307,.103],[1.357,.115],[1.406,.115],[1.455,.107],[1.504,.08],[1.541,.035]];

// ---------- Drawing helpers ----------
const NS='http://www.w3.org/2000/svg';
function make(tag,parent,attrs){
  const e=document.createElementNS(NS,tag);
  for(const k in attrs){e.setAttribute(k,attrs[k]);}
  parent.appendChild(e);
  return e;
}
function scaleFn(v1,z1,v2,z2,o,s){return v=>o+s*(z1+(v-v1)*(z2-z1)/(v2-v1));}
function panel(id,c){
  const g=document.getElementById(id);
  return Object.assign({},c,{g:g,X:scaleFn(c.xv[0],c.xv[1],c.xv[2],c.xv[3],c.ox,c.sx),Y:scaleFn(c.yv[0],c.yv[1],c.yv[2],c.yv[3],c.oy,c.sy),
    rl:c.ox+c.sx*c.L,rr:c.ox+c.sx*c.R,rt:c.oy+c.sy*c.T,rb:c.oy+c.sy*c.B});
}
function seg(p,x1,y1,x2,y2,w,col,nm){
  const l=make('line',p.g,{x1:x1,y1:y1,x2:x2,y2:y2,stroke:col,'stroke-width':w});
  
  
  return l;
}
function frame(p,wLB,wTR,colL){
  seg(p,p.rl,p.rt,p.rr,p.rt,wTR,'#000','axis-top-spine');
  seg(p,p.rr,p.rt,p.rr,p.rb,wTR,'#000','axis-right-spine');
  seg(p,p.rl,p.rb+wLB/2,p.rl,p.rt-wTR/2,wLB,colL||'#000','y-axis-line');
  seg(p,p.rl-wLB/2,p.rb,p.rr+wTR/2,p.rb,wLB,'#000','x-axis-line');
}
function midpoints(t){const m=[];for(let i=0;i+1<t.length;i++){m.push((t[i]+t[i+1])/2);}return m;}
function label(p,str,rx,ry,anchor,o){
  const fsReal=o.fs*p.sy, hs=o.em*p.sx/fsReal;
  const t=make('text',p.g,{transform:'translate('+rx+','+ry+') scale('+hs+',1)','font-size':fsReal,'text-anchor':anchor});
  t.textContent=str;
  if(o.col){t.style.fill=o.col;}
  
  
  return t;
}
function xAxis(p,ticks,labels,o){
  const w=o.w||4,len=o.len||14,ml=o.ml||8;
  midpoints(ticks).concat(o.extra||[]).forEach(v=>seg(p,p.X(v),p.rb,p.X(v),p.rb+ml,w,'#000','x-minor-tick'));
  ticks.forEach((v,i)=>{
    seg(p,p.X(v),p.rb,p.X(v),p.rb+len,w,'#000','x-major-tick');
    if(labels&&labels[i]!==undefined){label(p,labels[i],p.X(v),p.oy+p.sy*o.base,'middle',o);}
  });
}
function yAxis(p,ticks,labels,o){
  const w=o.w||4,len=o.len||14,ml=o.ml||8,col=o.tickCol||'#000';
  midpoints(ticks).concat(o.extra||[]).forEach(v=>seg(p,p.rl-ml,p.Y(v),p.rl,p.Y(v),w,col,'y-minor-tick'));
  ticks.forEach((v,i)=>{
    seg(p,p.rl-len,p.Y(v),p.rl,p.Y(v),w,col,'y-major-tick');
    if(labels&&labels[i]!==undefined){label(p,labels[i],p.ox+p.sx*o.right,p.Y(v)+p.sy*o.dy,'end',o);}
  });
}
function smooth(pts){
  let d='M'+pts[0][0].toFixed(1)+' '+pts[0][1].toFixed(1);
  for(let i=0;i+1<pts.length;i++){
    const a=pts[Math.max(i-1,0)],b=pts[i],c=pts[i+1],e=pts[Math.min(i+2,pts.length-1)];
    const len=Math.hypot(c[0]-b[0],c[1]-b[1])/3;
    const n1=Math.hypot(c[0]-a[0],c[1]-a[1])||1,n2=Math.hypot(e[0]-b[0],e[1]-b[1])||1;
    const c1x=b[0]+(c[0]-a[0])/n1*len,c1y=b[1]+(c[1]-a[1])/n1*len;
    const c2x=c[0]-(e[0]-b[0])/n2*len,c2y=c[1]-(e[1]-b[1])/n2*len;
    d+='C'+c1x.toFixed(1)+' '+c1y.toFixed(1)+' '+c2x.toFixed(1)+' '+c2y.toFixed(1)+' '+c[0].toFixed(1)+' '+c[1].toFixed(1);
  }
  return d;
}
function curve(p,data,col,w,nm,dash,parent){
  const pts=data.map(q=>[p.X(q[0]),p.Y(q[1])]);
  const a={d:smooth(pts),fill:'none',stroke:col,'stroke-width':w,'stroke-linejoin':'round','stroke-linecap':'butt'};
  if(dash){a['stroke-dasharray']=dash;}
  const e=make('path',parent||p.g,a);
  
  
  return e;
}
function stepped(p,data,col,w,nm){
  let d='M'+p.X(data[0][0]).toFixed(1)+' '+p.Y(data[0][1]).toFixed(1);
  for(let i=1;i<data.length;i++){d+='H'+p.X(data[i][0]).toFixed(1)+'V'+p.Y(data[i][1]).toFixed(1);}
  const e=make('path',p.g,{d:d,fill:'none',stroke:col,'stroke-width':w});
  
  
}
function ball(parent,cx,cy,r,kind,nm){
  const c=make('ellipse',parent,{cx:cx,cy:cy,rx:r,ry:r*1.15,fill:'url(#'+kind+')'});
  
  
}
function clipGroup(p,id){
  const cp=make('clipPath',p.g,{id:id});
  make('rect',cp,{x:p.rl,y:p.rt,width:p.rr-p.rl,height:p.rb-p.rt});
  return make('g',p.g,{'clip-path':'url(#'+id+')'});
}

// ---------- Panel a ----------
const pa=panel('plot-a',{ox:0,oy:0,sx:.8929,sy:.778,L:253,R:1482,T:78,B:1367,xv:[-.1,287,.6,1448],yv:[.08,93,-.08,1352]});
frame(pa,5.5,5.5);
xAxis(pa,aXTicks,aXLabels,{base:1458,fs:80,em:61,w:4});
yAxis(pa,aYTicks,aYLabels,{right:225,dy:27,fs:80,em:59,w:4});
[[a2Up,a2Down,'#0000ff','cv-2-mv'],[a3Up,a3Down,'#008080','cv-3-mv'],[a5Up,a5Down,'#00ff00','cv-5-mv'],[a7Up,a7Down,'#00ffff','cv-7-mv'],[a10Up,a10Down,'#ff0000','cv-10-mv']].forEach(s=>{
  curve(pa,s[0],s[2],5.3,s[3]+'-anodic');
  curve(pa,s[1],s[2],5.3,s[3]+'-cathodic');
});

// ---------- Panel b ----------
const pb=panel('plot-b',{ox:1440,oy:0,sx:.8929,sy:.778,L:295,R:1475,T:65,B:1347,xv:[-.1,311,.6,1458],yv:[.04,205,-.04,1347]});
frame(pb,3.5,2.5);
xAxis(pb,bXTicks,bXLabels,{base:1455,fs:78,em:58,w:3.5});
yAxis(pb,bYTicks,bYLabels,{right:262,dy:27,fs:84,em:62.5,w:3.5});
[[bRedUp,bRedDown,'#ff0000','cv-nis-co'],[bBlueUp,bBlueDown,'#0000ff','cv-co-c'],[bGreenUp,bGreenDown,'#008000','cv-nis-c'],[bBlackUp,bBlackDown,'#000000','cv-nis']].forEach(s=>{
  curve(pb,s[0],s[2],5,s[3]+'-anodic');
  curve(pb,s[1],s[2],5,s[3]+'-cathodic');
});
const pbi=panel('plot-b',{ox:1440,oy:0,sx:.8929,sy:.778,L:435,R:943,T:78,B:640,xv:[-1,476,0,901],yv:[.01,115,-.025,640]});
frame(pbi,2.5,1.5);
xAxis(pbi,biXTicks,biXLabels,{base:690,fs:37,em:29,w:2,len:8,ml:5});
yAxis(pbi,biYTicks,biYLabels,{right:422,dy:12,fs:37,em:29,w:2,len:8,ml:5});
[[bi5Up,bi5Down,'#0000ff','carbon-cv-5'],[bi10Up,bi10Down,'#ff0000','carbon-cv-10'],[bi20Up,bi20Down,'#008000','carbon-cv-20'],[bi30Up,bi30Down,'#8000ff','carbon-cv-30'],[bi40Up,bi40Down,'#ff8000','carbon-cv-40']].forEach(s=>{
  curve(pbi,s[0],s[2],3.2,s[3]+'-up');
  curve(pbi,s[1],s[2],3.2,s[3]+'-down');
});

// ---------- Panel c ----------
const pc=panel('plot-c',{ox:2900,oy:0,sx:.8744,sy:.778,L:250,R:1515,T:65,B:1372,xv:[0,258,1200,1375],yv:[0,1345,.4,230]});
frame(pc,5.5,5.5);
xAxis(pc,cXTicks,cXLabels,{base:1465,fs:80,em:62,w:4});
yAxis(pc,cYTicks,cYLabels,{right:225,dy:25,fs:80,em:62.5,w:4,extra:[.45]});
[[c1Charge,c1Discharge,'#0000ff','gcd-1-ag'],[c2Charge,c2Discharge,'#008080','gcd-2-ag'],[c3Charge,c3Discharge,'#00ff00','gcd-3-ag'],[c5Charge,c5Discharge,'#00ffff','gcd-5-ag'],[c7Charge,c7Discharge,'#ff00ff','gcd-7-ag'],[c10Charge,c10Discharge,'#ff0000','gcd-10-ag']].forEach(s=>{
  curve(pc,s[0],s[2],5,s[3]+'-charge');
  curve(pc,s[1],s[2],5,s[3]+'-discharge');
});

// ---------- Panel d ----------
const pd=panel('plot-d',{ox:0,oy:1220,sx:.8929,sy:.778,L:252,R:1482,T:33,B:1340,xv:[0,260,1200,1347],yv:[.4,172,-.1,1320]});
frame(pd,4,2);
xAxis(pd,dXTicks,dXLabels,{base:1447,fs:80,em:60,w:3.5,extra:[1300]});
yAxis(pd,dYTicks,dYLabels,{right:218,dy:25,fs:80,em:61,w:3.5,extra:[.45]});
curve(pd,dBlueCharge,'#0000ff',5,'gcd-nis-co-charge');
curve(pd,dBlueDischarge,'#0000ff',5,'gcd-nis-co-discharge');
curve(pd,dRedCharge,'#ff0000',5,'gcd-co-c-charge');
curve(pd,dRedDischarge,'#ff0000',5,'gcd-co-c-discharge');

// ---------- Panel e ----------
const peTop=panel('plot-e',{ox:1440,oy:1220,sx:.8929,sy:.778,L:275,R:1497,T:36,B:613,xv:[2,397,10,1376],yv:[-.02,112,-.08,575]});
const peBot=panel('plot-e',{ox:1440,oy:1220,sx:.8929,sy:.778,L:275,R:1497,T:780,B:1360,xv:[2,397,10,1376],yv:[.08,821,.02,1318]});
seg(peTop,peTop.rl,peTop.rt,peTop.rr,peTop.rt,2,'#000','upper-top-spine');
seg(peTop,peTop.rr,peTop.rt,peTop.rr,peTop.rb,2,'#000','upper-right-spine');
seg(peTop,peTop.rl,peTop.rt,peTop.rl,peTop.rb,3,'#0000ff','upper-y-axis-line');
seg(peTop,peTop.rl,peTop.rb,peTop.rr,peTop.rb,2,'#000','upper-x-axis-line');
seg(peBot,peBot.rl,peBot.rt,peBot.ox+peBot.sx*340,peBot.rt,2,'#000','lower-top-spine-left');
seg(peBot,peBot.ox+peBot.sx*1228,peBot.rt,peBot.rr,peBot.rt,2,'#000','lower-top-spine-right');
seg(peBot,peBot.rr,peBot.rt,peBot.rr,peBot.rb,2,'#000','lower-right-spine');
seg(peBot,peBot.rl,peBot.rt,peBot.rl,peBot.rb,3,'#ff0000','lower-y-axis-line');
seg(peBot,peBot.rl,peBot.rb,peBot.rr,peBot.rb,2.5,'#000','lower-x-axis-line');
xAxis(peTop,eXTicks,null,{w:2.5,len:7,ml:7,extra:[1,11]});
xAxis(peBot,eXTicks,eXLabels,{base:1457,fs:76,em:53,w:3,len:13,ml:7,extra:[1,11]});
yAxis(peTop,eTopTicks,eTopLabels,{right:245,dy:24,fs:72,em:56,col:'#0000ff',tickCol:'#0000ff',w:2.5,len:12,ml:6});
yAxis(peBot,eBotTicks,eBotLabels,{right:245,dy:25,fs:72,em:56.5,col:'#ff0000',tickCol:'#ff0000',w:2.5,len:12,ml:6});
function fitLine(p,ys,col,nm){
  const l=make('line',p.g,{x1:p.X(eFitRates[0]),y1:p.Y(ys[0]),x2:p.X(eFitRates[1]),y2:p.Y(ys[1]),stroke:col,'stroke-width':5.5});
  
  
}
function peakDots(p,ys,kind,nm){eRates.forEach((r,i)=>ball(p.g,p.X(r),p.Y(ys[i]),15.5,kind,nm));}
fitLine(peTop,eRedNisFit,'#0000ff','reductive-nis-fit');
fitLine(peTop,eRedCoFit,'#ff0000','reductive-co-fit');
fitLine(peBot,eOxNisFit,'#0000ff','oxidative-nis-fit');
fitLine(peBot,eOxCoFit,'#ff0000','oxidative-co-fit');
peakDots(peTop,eRedNis,'ballBlue','reductive-nis-point');
peakDots(peTop,eRedCo,'ballRed','reductive-co-point');
peakDots(peBot,eOxNis,'ballBlue','oxidative-nis-point');
peakDots(peBot,eOxCo,'ballRed','oxidative-co-point');
ball(peTop.g,1440+.8929*410,1220+.778*645,15.5,'ballBlue','legend-marker-nis-co');
ball(peTop.g,1440+.8929*410,1220+.778*733,15.5,'ballRed','legend-marker-co-c');

// ---------- Panel f ----------
const pf=panel('plot-f',{ox:2900,oy:1220,sx:.8744,sy:.778,L:265,R:1518,T:40,B:1354,xv:[0,265,10,1405],yv:[0,1354,600,228]});
const barHalf=.36;
fCurrents.forEach((c,i)=>{
  const b=make('rect',pf.g,{x:pf.X(c-barHalf),y:pf.Y(fCapacity[i]),width:pf.X(c+barHalf)-pf.X(c-barHalf),height:pf.Y(0)-pf.Y(fCapacity[i]),fill:'url(#barFill)',stroke:'#000','stroke-width':2});
  
  
});
frame(pf,6.5,6.5);
xAxis(pf,fXTicks,fXLabels,{base:1452,fs:74,em:58,w:4.5,extra:[11]});
yAxis(pf,fYTicks,fYLabels,{right:238,dy:27,fs:74,em:62,w:4.5,extra:[700]});

// ---------- Panel g ----------
const pg=panel('plot-g',{ox:0,oy:2430,sx:.8929,sy:.7953,L:232,R:1468,T:30,B:1305,xv:[0,235,5000,1420],yv:[0,1305,100,143]});
frame(pg,7,7);
xAxis(pg,gXTicks,gXLabels,{base:1402,fs:82,em:61,w:5});
yAxis(pg,gYTicks,gYLabels,{right:212,dy:25,fs:80,em:60,w:5});
const gLine=make('path',pg.g,{d:smooth(gCycles.map((c,i)=>[pg.X(c),pg.Y(gRetention[i])])),fill:'none',stroke:'#0000ff','stroke-width':5});


gCycles.forEach((c,i)=>ball(pg.g,pg.X(c),pg.Y(gRetention[i]),17,'ballBlue','retention-point'));
ball(pg.g,.8929*998,2430+.7953*92,18,'ballBlue','legend-marker');
const pgi=panel('plot-g',{ox:0,oy:2430,sx:.8929,sy:.7953,L:388,R:1290,T:277,B:1148,xv:[0,388,80,1288],yv:[0,1148,.4,390]});
frame(pgi,4.5,4);
xAxis(pgi,giXTicks,giXLabels,{base:1210,fs:44,em:39,w:3,len:10,ml:6});
yAxis(pgi,giYTicks,giYLabels,{right:372,dy:16,fs:44,em:40,w:3,len:10,ml:6,extra:[.45]});
curve(pgi,giFirstCharge,'#ff0000',5,'first-cycle-charge');
curve(pgi,giFirstDischarge,'#ff0000',5,'first-cycle-discharge');
stepped(pgi,giLastSteps,'#0000ff',5,'last-cycle');

// ---------- Panel h ----------
const ph=panel('plot-h',{ox:1440,oy:2430,sx:.8929,sy:.7953,L:205,R:1470,T:57,B:1332,xv:[0,205,15,1470],yv:[0,1332,15,57]});
const hc=clipGroup(ph,'clip-h');
curve(ph,hCycled,'#0000ff',5,'nyquist-cycled-line',null,hc);
hCycled.forEach(q=>ball(hc,ph.X(q[0]),ph.Y(q[1]),17.5,'ballBlue','nyquist-cycled-point'));
curve(ph,hFresh,'#ff0000',5,'nyquist-fresh-line',null,hc);
hFreshLow.forEach(q=>ball(hc,ph.X(q[0]),ph.Y(q[1]),17.5,'ballRed','nyquist-fresh-low-point'));
hFresh.forEach(q=>ball(hc,ph.X(q[0]),ph.Y(q[1]),17.5,'ballRed','nyquist-fresh-point'));
frame(ph,6,6);
xAxis(ph,hTicks,hLabels,{base:1425,fs:80,em:61,w:4.5});
yAxis(ph,hTicks,hLabels,{right:178,dy:26,fs:80,em:61,w:4.5});
ball(ph.g,1440+.8929*951,2430+.7953*1158,18,'ballRed','legend-marker-nis-co');
ball(ph.g,1440+.8929*951,2430+.7953*1268,18,'ballBlue','legend-marker-after');

// ---------- Panel i ----------
const pi=panel('plot-i',{ox:2900,oy:2430,sx:.8744,sy:.7953,L:243,R:1465,T:58,B:1315,xv:[1,245,2,1465],yv:[0,1315,2,58]});
const ic=clipGroup(pi,'clip-i');
curve(pi,iRed.concat(iRedTail.slice(1)),'#ff0000',5,'nyquist-after-line',null,ic);
iRed.forEach(q=>ball(ic,pi.X(q[0]),pi.Y(q[1]),17.5,'ballRed','nyquist-after-point'));
curve(pi,iBlue,'#0000ff',5,'nyquist-before-line',null,ic);
curve(pi,iBlueTail,'#0000ff',5,'nyquist-before-tail',null,ic);
iBlueLow.forEach(q=>ball(ic,pi.X(q[0]),pi.Y(q[1]),17.5,'ballBlue','nyquist-before-low-point'));
iBlue.forEach(q=>ball(ic,pi.X(q[0]),pi.Y(q[1]),17.5,'ballBlue','nyquist-before-point'));
curve(pi,iFitCyan,'#00ffff',5,'semicircle-fit-before','20 18',ic);
curve(pi,iFitOrange,'#ff8000',5,'semicircle-fit-after','20 18',ic);
frame(pi,6.5,6.5);
xAxis(pi,iXTicks,iXLabels,{base:1410,fs:80,em:59,w:4.5});
yAxis(pi,iYTicks,iYLabels,{right:215,dy:25,fs:80,em:60,w:4.5});
ball(pi.g,2900+.8744*360,2430+.7953*138,18,'ballBlue','legend-marker-nis-co');
ball(pi.g,2900+.8744*360,2430+.7953*265,18,'ballRed','legend-marker-after');

// Thicken all text slightly so it matches the heavy weight of the reference
document.querySelectorAll('#fig text').forEach(t=>{
  t.style.stroke=getComputedStyle(t).fill;
  t.style.strokeWidth='1.3';
});
</script>
</body>
</html>
